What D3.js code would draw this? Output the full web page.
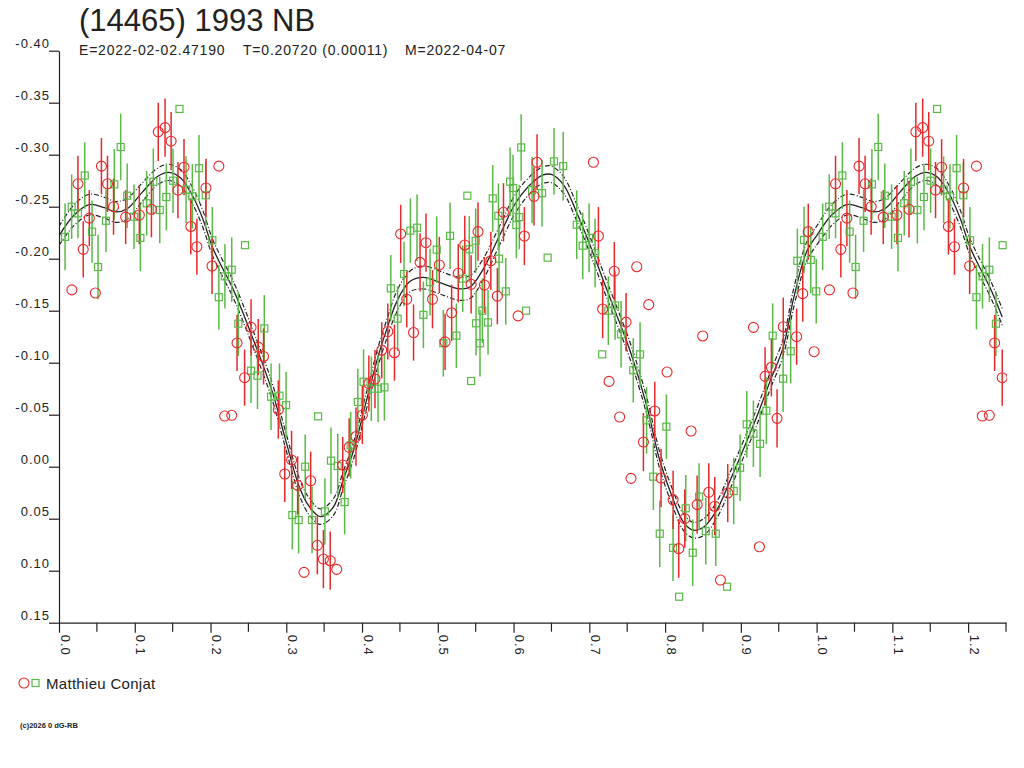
<!DOCTYPE html>
<html>
<head>
<meta charset="utf-8">
<script src="https://cdn.jsdelivr.net/npm/d3@7"></script>
<style>
  body { margin: 0; background: #fff; }
  svg text { font-family: "Liberation Sans", Arial, sans-serif; fill: #222; }
</style>
</head>
<body>
<div id="lc_chart"></div>
<script>
const titleText = "(14465) 1993 NB";
const subTexts = ["E=2022-02-02.47190", "T=0.20720 (0.00011)", "M=2022-04-07"];
const observer = "Matthieu Conjat";
const footerText = "(c)2026 0 dG-RB";

const yTicks = [-0.40, -0.35, -0.30, -0.25, -0.20, -0.15, -0.10, -0.05, 0.00, 0.05, 0.10, 0.15];
const xMajor = [0.0, 0.1, 0.2, 0.3, 0.4, 0.5, 0.6, 0.7, 0.8, 0.9, 1.0, 1.1, 1.2];
const xMinor = [0.05, 0.15, 0.25, 0.35, 0.45, 0.55, 0.65, 0.75, 0.85, 0.95, 1.05, 1.15, 1.25];

// fit curve (phase, mag) and half width of the dash-dot band
const fitPhase = [0.000, 0.020, 0.040, 0.060, 0.075, 0.090, 0.110, 0.130, 0.145, 0.160, 0.176, 0.190, 0.202, 0.215, 0.229, 0.245, 0.255, 0.264, 0.282, 0.299, 0.317, 0.330, 0.345, 0.362, 0.375, 0.389, 0.406, 0.422, 0.433, 0.446, 0.463, 0.481, 0.503, 0.529, 0.543, 0.560, 0.582, 0.604, 0.626, 0.639, 0.650, 0.666, 0.683, 0.701, 0.719, 0.736, 0.754, 0.776, 0.793, 0.811, 0.824, 0.837, 0.851, 0.868, 0.886, 0.903, 0.921, 0.939, 0.956, 0.970, 0.987, 1.000];
const fitMag = [-0.222, -0.242, -0.252, -0.249, -0.245, -0.248, -0.264, -0.279, -0.283, -0.278, -0.261, -0.238, -0.212, -0.192, -0.172, -0.144, -0.125, -0.108, -0.071, -0.026, 0.019, 0.038, 0.048, 0.039, 0.013, -0.016, -0.064, -0.108, -0.133, -0.159, -0.178, -0.182, -0.177, -0.171, -0.173, -0.190, -0.223, -0.255, -0.274, -0.2805, -0.281, -0.271, -0.245, -0.213, -0.178, -0.146, -0.111, -0.058, -0.006, 0.032, 0.053, 0.061, 0.058, 0.042, 0.013, -0.016, -0.048, -0.083, -0.115, -0.163, -0.207, -0.222];
const fitBand = [0.009, 0.010, 0.010, 0.010, 0.010, 0.010, 0.009, 0.008, 0.0078, 0.008, 0.008, 0.008, 0.008, 0.008, 0.008, 0.008, 0.008, 0.008, 0.008, 0.008, 0.008, 0.008, 0.0075, 0.008, 0.008, 0.008, 0.008, 0.009, 0.009, 0.010, 0.010, 0.011, 0.011, 0.011, 0.011, 0.010, 0.009, 0.009, 0.008, 0.008, 0.008, 0.008, 0.008, 0.008, 0.008, 0.008, 0.008, 0.008, 0.008, 0.008, 0.008, 0.0075, 0.008, 0.008, 0.008, 0.008, 0.008, 0.008, 0.008, 0.009, 0.009, 0.009];

// red circles
const redPhase = [0.017, 0.032, 0.025, 0.040, 0.048, 0.056, 0.064, 0.072, 0.088, 0.106, 0.122, 0.131, 0.140, 0.148, 0.157, 0.165, 0.174, 0.182, 0.194, 0.211, 0.202, 0.235, 0.2535, 0.263, 0.270, 0.245, 0.2187, 0.228, 0.2895, 0.307, 0.298, 0.315, 0.3234, 0.3322, 0.341, 0.349, 0.358, 0.3666, 0.3745, 0.383, 0.392, 0.4004, 0.409, 0.4171, 0.426, 0.4428, 0.5096, 0.451, 0.4844, 0.4766, 0.502, 0.459, 0.493, 0.468, 0.434, 0.5183, 0.527, 0.5356, 0.544, 0.5531, 0.5615, 0.570, 0.5786, 0.5867, 0.606, 0.6143, 0.627, 0.631, 0.7054, 0.712, 0.733, 0.7626, 0.7176, 0.7485, 0.7784, 0.8497, 0.9166, 0.956, 0.9736, 0.9817, 0.989, 0.9967, 0.726, 0.740, 0.755, 0.7714, 0.7864, 0.8026, 0.8343, 0.7947, 0.8106, 0.818, 0.826, 0.8423, 0.8577, 0.8656, 0.8731, 0.8827, 0.9245, 0.9478, 0.932, 0.9403];
const redMag = [-0.170, -0.209, -0.272, -0.239, -0.167, -0.289, -0.272, -0.250, -0.240, -0.242, -0.2475, -0.322, -0.326, -0.313, -0.266, -0.288, -0.231, -0.2115, -0.268, -0.289, -0.193, -0.119, -0.134, -0.115, -0.106, -0.0856, -0.0487, -0.0494, -0.055, -0.0065, 0.007, 0.018, 0.1016, 0.0135, 0.0756, 0.0888, 0.0904, 0.0987, -0.0016, -0.0187, -0.029, -0.0497, -0.080, -0.0843, -0.112, -0.1096, -0.120, -0.2238, -0.2154, -0.1965, -0.194, -0.161, -0.161, -0.129, -0.130, -0.148, -0.186, -0.2132, -0.1754, -0.226, -0.1747, -0.198, -0.164, -0.2446, -0.145, -0.2218, -0.260, -0.2927, -0.2927, -0.2218, -0.188, -0.1923, -0.1516, -0.139, -0.1558, -0.1257, -0.134, -0.1346, -0.125, -0.1664, -0.226, -0.1106, -0.082, -0.0478, 0.0112, -0.0237, -0.0536, -0.091, -0.0343, 0.0109, 0.0318, 0.0788, 0.050, 0.0365, 0.0246, 0.038, 0.109, 0.0253, 0.077, -0.0465, -0.0869, -0.0956];
const redErr = [0, 0.027, 0.027, 0.027, 0, 0.027, 0.027, 0.027, 0.026, 0.028, 0.027, 0.028, 0.028, 0.028, 0.027, 0.027, 0.027, 0.027, 0.028, 0, 0.027, 0.027, 0.027, 0.027, 0.027, 0.027, 0, 0, 0.028, 0.028, 0.027, 0.028, 0, 0.028, 0.028, 0.028, 0.028, 0, 0.027, 0.028, 0.028, 0.028, 0.027, 0.028, 0.027, 0.027, 0.027, 0.028, 0.028, 0.028, 0.027, 0.027, 0.028, 0.027, 0.027, 0.027, 0.028, 0.028, 0.028, 0.028, 0.027, 0.028, 0.027, 0.028, 0, 0.028, 0.028, 0.027, 0, 0.028, 0.028, 0, 0.028, 0.028, 0, 0, 0, 0.028, 0.027, 0.027, 0.027, 0, 0, 0, 0, 0.028, 0.028, 0, 0, 0.028, 0.028, 0.028, 0.028, 0.028, 0.028, 0.028, 0, 0.028, 0, 0.028, 0.028, 0.028];

// green squares
const greenPhase = [0.008, 0.0167, 0.025, 0.034, 0.0436, 0.0515, 0.062, 0.073, 0.0814, 0.090, 0.099, 0.1074, 0.1157, 0.1245, 0.133, 0.1417, 0.1505, 0.159, 0.1677, 0.176, 0.1848, 0.1937, 0.2024, 0.2455, 0.211, 0.219, 0.228, 0.2367, 0.271, 0.2535, 0.262, 0.2799, 0.291, 0.2997, 0.325, 0.308, 0.3163, 0.342, 0.334, 0.351, 0.359, 0.3679, 0.377, 0.385, 0.3944, 0.402, 0.4123, 0.4211, 0.4295, 0.5073, 0.544, 0.5557, 0.438, 0.447, 0.4554, 0.4638, 0.4726, 0.481, 0.4898, 0.4986, 0.5162, 0.5245, 0.5329, 0.539, 0.5416, 0.550, 0.5505, 0.5588, 0.5663, 0.5725, 0.5808, 0.5897, 0.580, 0.5954, 0.5993, 0.6037, 0.6076, 0.610, 0.6165, 0.6244, 0.6376, 0.645, 0.6534, 0.6655, 0.6834, 0.6913, 0.6997, 0.7076, 0.7251, 0.734, 0.7419, 0.717, 0.767, 0.942, 0.9658, 0.9746, 0.9834, 0.9923, 0.9995, 0.758, 0.7756, 0.8017, 0.7845, 0.793, 0.8105, 0.8185, 0.8273, 0.8365, 0.8449, 0.8537, 0.8669, 0.8818, 0.8906, 0.899, 0.9078, 0.9166, 0.9254, 0.9337, 0.9558];
const greenMag = [-0.221, -0.250, -0.2436, -0.280, -0.226, -0.192, -0.2365, -0.2715, -0.3074, -0.2606, -0.2404, -0.220, -0.2533, -0.274, -0.2468, -0.2593, -0.275, -0.344, -0.2664, -0.260, -0.287, -0.261, -0.2177, -0.213, -0.163, -0.183, -0.1894, -0.1375, -0.133, -0.0923, -0.0875, -0.0673, -0.0683, -0.0593, 0.000, 0.0465, 0.0513, -0.0484, 0.0513, 0.043, -0.0058, -0.0007, 0.034, -0.0206, -0.0622, -0.0817, -0.075, -0.075, -0.0763, -0.1187, -0.0824, -0.1187, -0.1715, -0.1423, -0.1853, -0.227, -0.2298, -0.146, -0.1775, -0.2087, -0.222, -0.126, -0.1808, -0.2606, -0.209, -0.2173, -0.1379, -0.150, -0.1388, -0.258, -0.200, -0.1686, -0.2413, -0.274, -0.268, -0.2324, -0.240, -0.307, -0.150, -0.266, -0.263, -0.201, -0.2936, -0.289, -0.2327, -0.2125, -0.220, -0.2055, -0.150, -0.155, -0.1273, -0.108, -0.108, -0.126, -0.111, -0.198, -0.218, -0.1988, -0.1686, -0.0927, -0.0446, -0.0385, 0.0096, 0.0644, 0.078, 0.125, 0.040, 0.0827, 0.0288, 0.062, 0.0644, 0.1154, 0.0234, 0.001, -0.0408, -0.0317, -0.022, -0.0538, -0.0846];
const greenErr = [0.032, 0.031, 0.024, 0.032, 0.030, 0.031, 0.030, 0.034, 0.032, 0.031, 0.031, 0.032, 0.031, 0.032, 0.032, 0.032, 0.031, 0, 0.032, 0.031, 0.032, 0.032, 0.032, 0, 0.031, 0.031, 0.031, 0.031, 0.032, 0.031, 0.032, 0.032, 0.031, 0.032, 0.031, 0.033, 0.032, 0, 0.032, 0.032, 0.032, 0.031, 0.031, 0.032, 0.032, 0.031, 0.031, 0.032, 0.032, 0.032, 0, 0.032, 0.032, 0.031, 0.031, 0.031, 0.032, 0.032, 0.032, 0.032, 0.032, 0.031, 0.032, 0, 0.032, 0.031, 0.031, 0.031, 0.031, 0.032, 0.031, 0.032, 0.031, 0.033, 0.032, 0.032, 0.031, 0.032, 0, 0.032, 0.032, 0, 0.032, 0.033, 0.033, 0.032, 0.033, 0.033, 0.033, 0.033, 0.032, 0, 0.031, 0.031, 0.031, 0.031, 0.032, 0.032, 0.031, 0.031, 0.032, 0.031, 0.032, 0.032, 0.032, 0, 0.032, 0.032, 0.032, 0.032, 0.031, 0, 0.032, 0.032, 0.032, 0.032, 0.032, 0.032, 0.032];

const phaseMax = 1.25;
const redColor = "#e8282b";
const greenColor = "#5ab947";

// phases past 1.0 repeat the start of the cycle
function withRepeat(phases, mags, errs) {
  const pts = [];
  phases.forEach(function (p, i) {
    pts.push({p: p, m: mags[i], e: errs ? errs[i] : 0});
    if (p + 1 <= phaseMax) pts.push({p: p + 1, m: mags[i], e: errs ? errs[i] : 0});
  });
  return pts;
}

const lc_width = 1024, lc_height = 768;
const lc_svg = d3.select("#lc_chart").append("svg")
  .attr("width", lc_width)
  .attr("height", lc_height);

const x = d3.scaleLinear().domain([0, phaseMax]).range([59, 1006]);
const y = d3.scaleLinear().domain([-0.40, 0.15]).range([50.7, 622.7]);

// titles
lc_svg.append("text")
  .attr("x", 79).attr("y", 31)
  .style("font-size", "31px")
  .text(titleText);
const subX = [79, 243, 405];
subTexts.forEach(function (t, i) {
  lc_svg.append("text")
    .attr("x", subX[i]).attr("y", 55)
    .style("font-size", "14px").style("letter-spacing", "0.8px")
    .text(t);
});

// axes
const yAxis = lc_svg.append("g")
  .attr("transform", "translate(59,0)")
  .call(d3.axisLeft(y).tickValues(yTicks).tickSize(10).tickSizeOuter(0)
    .tickFormat(function (d) { return d.toFixed(2); }));
yAxis.selectAll("text")
  .attr("x", -9).attr("y", -3).attr("dy", null)
  .style("font-size", "13px").style("letter-spacing", "1px")
  .style("fill", "#222");

const xAxis = lc_svg.append("g")
  .attr("transform", "translate(0,622.7)")
  .call(d3.axisBottom(x).tickValues(xMajor).tickSize(10).tickSizeOuter(0)
    .tickFormat(function (d) { return d.toFixed(1); }));
xAxis.selectAll("text")
  .attr("transform", "rotate(90)")
  .attr("x", 12).attr("y", -1).attr("dy", null)
  .style("text-anchor", "start")
  .style("font-size", "13px").style("letter-spacing", "1px")
  .style("fill", "#222");
xAxis.selectAll(".minor").data(xMinor).enter().append("line")
  .attr("class", "minor")
  .attr("x1", function (d) { return x(d); }).attr("x2", function (d) { return x(d); })
  .attr("y1", 0).attr("y2", 9)
  .attr("stroke", "#222");
lc_svg.selectAll(".domain, .tick line, .minor").attr("stroke", "#222").attr("stroke-width", 1.2);

// plot clip
lc_svg.append("clipPath").attr("id", "lc_clip")
  .append("rect").attr("x", 59).attr("y", 40).attr("width", 948).attr("height", 583);
const plot = lc_svg.append("g").attr("clip-path", "url(#lc_clip)");

// fit + band
const fitPts = withRepeat(fitPhase, fitMag, fitBand).sort(function (a, b) { return a.p - b.p; });
const fitLine = function (off) {
  return d3.line()
    .x(function (d) { return x(d.p); })
    .y(function (d) { return y(d.m + off * d.e); })
    .curve(d3.curveCatmullRom);
};
plot.append("path").datum(fitPts).attr("d", fitLine(0))
  .attr("fill", "none").attr("stroke", "#222").attr("stroke-width", 1.3);
[-1, 1].forEach(function (s) {
  plot.append("path").datum(fitPts).attr("d", fitLine(s))
    .attr("fill", "none").attr("stroke", "#222").attr("stroke-width", 1.2)
    .attr("stroke-dasharray", "5,2,1,2");
});

// observations
const redPts = withRepeat(redPhase, redMag, redErr);
const greenPts = withRepeat(greenPhase, greenMag, greenErr);

function drawBars(pts, color) {
  plot.append("g").selectAll("line")
    .data(pts.filter(function (d) { return d.e > 0; }))
    .enter().append("line")
    .attr("x1", function (d) { return x(d.p); })
    .attr("x2", function (d) { return x(d.p); })
    .attr("y1", function (d) { return y(d.m - d.e); })
    .attr("y2", function (d) { return y(d.m + d.e); })
    .attr("stroke", color).attr("stroke-width", 1.5);
}
drawBars(greenPts, greenColor);
drawBars(redPts, redColor);

plot.append("g").selectAll("rect").data(greenPts).enter().append("rect")
  .attr("x", function (d) { return x(d.p) - 3.5; })
  .attr("y", function (d) { return y(d.m) - 3.5; })
  .attr("width", 7).attr("height", 7)
  .attr("fill", "none").attr("stroke", greenColor).attr("stroke-width", 1.2);
plot.append("g").selectAll("circle").data(redPts).enter().append("circle")
  .attr("cx", function (d) { return x(d.p); })
  .attr("cy", function (d) { return y(d.m); })
  .attr("r", 5)
  .attr("fill", "none").attr("stroke", redColor).attr("stroke-width", 1.1);

// legend
lc_svg.append("circle").attr("cx", 24).attr("cy", 683).attr("r", 5)
  .attr("fill", "none").attr("stroke", redColor).attr("stroke-width", 1.1);
lc_svg.append("rect").attr("x", 32).attr("y", 679.5).attr("width", 7).attr("height", 7)
  .attr("fill", "none").attr("stroke", greenColor).attr("stroke-width", 1.2);
lc_svg.append("text").attr("x", 46).attr("y", 689)
  .style("font-size", "15px").style("letter-spacing", "0.3px")
  .text(observer);

// footer
lc_svg.append("text").attr("x", 20).attr("y", 728)
  .style("font-size", "7.5px").style("font-weight", "bold")
  .text(footerText);
</script>
</body>
</html>
